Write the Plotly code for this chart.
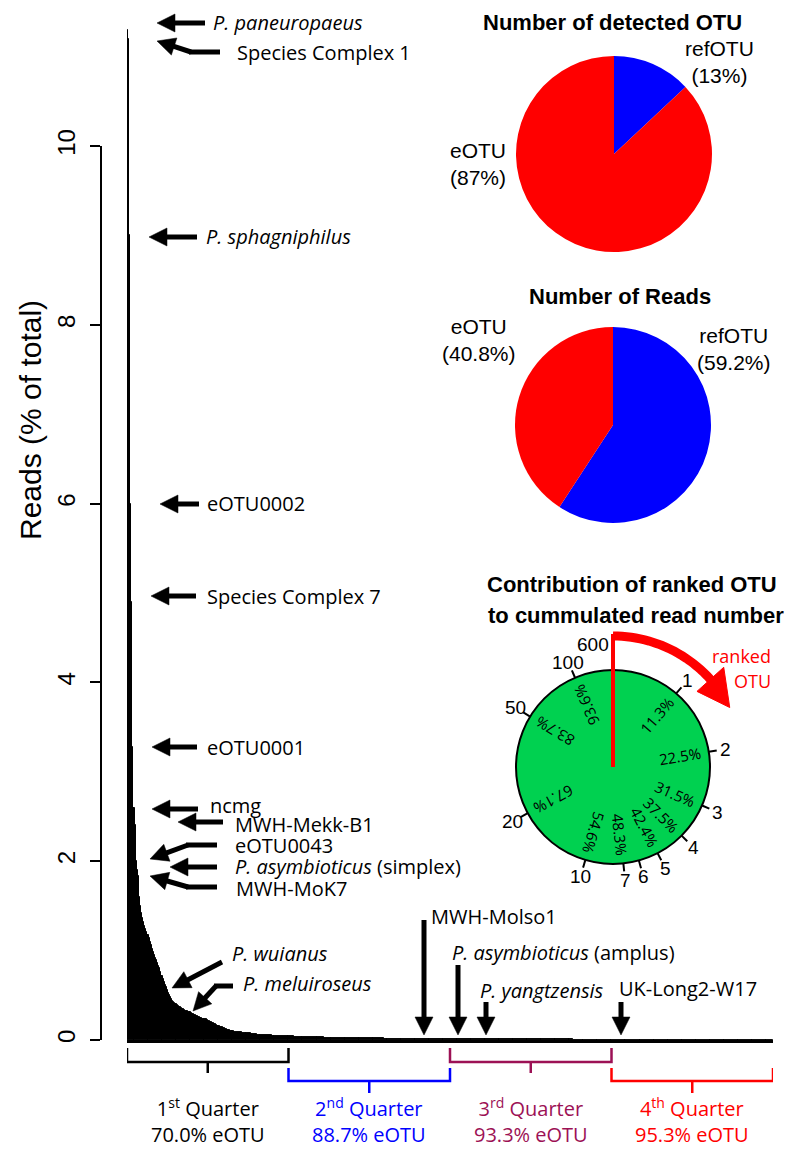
import math
import plotly.graph_objects as go

W, H = 800, 1155

# ---------------- data ----------------
N_OTU = 600
# reads (% of total) of the ranked OTU (ranks 1..103)
HEAD_READS = [
    11.3, 11.2, 9.0, 6.0, 4.9, 3.28, 2.6, 2.4, 2.0, 1.9,
    1.83, 1.6, 1.5, 1.42, 1.36, 1.32, 1.28, 1.24, 1.21, 1.18,
    1.14, 1.10, 1.06, 1.02, 0.98, 0.95, 0.92, 0.89, 0.86, 0.83,
    0.80, 0.76, 0.72, 0.68, 0.65, 0.62, 0.59, 0.56, 0.53, 0.50,
    0.48, 0.46, 0.44, 0.42, 0.41, 0.40, 0.39, 0.38, 0.37, 0.37,
    0.36, 0.35, 0.35, 0.34, 0.33, 0.33, 0.32, 0.31, 0.31, 0.30,
    0.29, 0.29, 0.28, 0.28, 0.27, 0.27, 0.26, 0.26, 0.25, 0.25,
    0.24, 0.24, 0.23, 0.23, 0.22, 0.21, 0.21, 0.20, 0.20, 0.19,
    0.19, 0.18, 0.18, 0.17, 0.16, 0.16, 0.15, 0.145, 0.14, 0.135,
    0.13, 0.125, 0.12, 0.115, 0.11, 0.107, 0.104, 0.10, 0.098, 0.095,
    0.093, 0.091, 0.09,
]
# long tail read as flat steps: (reads %, number of consecutive OTU)
TAIL_RUNS = [
    (0.088, 2), (0.085, 2), (0.082, 2), (0.079, 2), (0.076, 2), (0.073, 2),
    (0.070, 2), (0.067, 2), (0.064, 2), (0.061, 2), (0.058, 2), (0.055, 2),
    (0.053, 4), (0.051, 4), (0.049, 4), (0.047, 4), (0.045, 4), (0.043, 4),
    (0.041, 4), (0.039, 4), (0.037, 4), (0.035, 4), (0.033, 4), (0.031, 4),
    (0.029, 8), (0.027, 8), (0.025, 8), (0.023, 8), (0.021, 8), (0.019, 8),
    (0.018, 8), (0.017, 8), (0.016, 8), (0.015, 8), (0.014, 8), (0.013, 8),
    (0.012, 8),
    (0.011, 20), (0.010, 20), (0.009, 20), (0.008, 20), (0.007, 25),
    (0.006, 30), (0.005, 35), (0.004, 40), (0.003, 45), (0.002, 50),
    (0.001, 16),
]
Y_TICKS = [0, 2, 4, 6, 8, 10]

PIE_LABELS = ["refOTU", "eOTU"]
PIE_OTU_VALUES = [13, 87]
PIE_READS_VALUES = [59.2, 40.8]
PIE_COLORS = ["#0000ff", "#ff0000"]

CIRCLE_RANKS = ["1", "2", "3", "4", "5", "6", "7", "10", "20", "50", "100", "600"]
CIRCLE_CUM = [11.3, 22.5, 31.5, 37.5, 42.4, 45.7, 48.3, 54.6, 67.1, 83.7, 93.6, 100.0]
CIRCLE_PCT = ["11.3%", "22.5%", "31.5%", "37.5%", "42.4%", "", "48.3%",
              "54.6%", "67.1%", "83.7%", "93.6%", ""]

QUARTER_NAMES = ["1<sup>st</sup> Quarter", "2<sup>nd</sup> Quarter",
                 "3<sup>rd</sup> Quarter", "4<sup>th</sup> Quarter"]
QUARTER_EOTU = [70.0, 88.7, 93.3, 95.3]
QUARTER_COLORS = ["#000000", "#0000ff", "#9c1155", "#ff0000"]

reads = HEAD_READS + [v for v, n in TAIL_RUNS for _ in range(n)]
ranks = list(range(1, len(reads) + 1))

# ---------------- helpers ----------------
def px(x):
    return x / W


def py(y):
    return 1 - y / H


SANS = "Open Sans, Noto Sans, sans-serif"
ARIAL = "Liberation Sans, Arial, sans-serif"

fig = go.Figure()

# ---------------- main rank-abundance bars ----------------
fig.add_trace(go.Bar(
    x=ranks, y=reads, marker=dict(color="black", line=dict(color="black", width=1.0)),
    showlegend=False, hoverinfo="x+y",
))
# carrier trace for the visible 0..10 reads axis
fig.add_trace(go.Scatter(x=[None], y=[None], xaxis="x", yaxis="y2", showlegend=False,
                         hoverinfo="skip"))

# ---------------- pies ----------------
fig.add_trace(go.Pie(
    labels=PIE_LABELS, values=PIE_OTU_VALUES, marker=dict(colors=PIE_COLORS, line=dict(width=0)),
    sort=False, direction="clockwise", rotation=0, textinfo="none", showlegend=False,
    automargin=False, domain=dict(x=[px(516), px(712)], y=[py(252), py(56)]),
))
fig.add_trace(go.Pie(
    labels=PIE_LABELS, values=PIE_READS_VALUES, marker=dict(colors=PIE_COLORS, line=dict(width=0)),
    sort=False, direction="clockwise", rotation=0, textinfo="none", showlegend=False,
    automargin=False, domain=dict(x=[px(515), px(711)], y=[py(523), py(327)]),
))

shapes = []
annotations = []

annotations.append(dict(text="Reads (% of total)", x=px(30), y=py(420), xref="paper", yref="paper",
                        showarrow=False, textangle=-90, font=dict(family=ARIAL, size=30, color="black"),
                        xanchor="center", yanchor="middle"))

# ---------------- labelled arrows on the main plot ----------------
AW = 5
HEAD_L, HEAD_HW = 18, 9


def arrow(tip, tail):
    dx, dy = tip[0] - tail[0], tip[1] - tail[1]
    n = math.hypot(dx, dy)
    ux, uy = dx / n, dy / n
    bx, by = tip[0] - ux * HEAD_L, tip[1] - uy * HEAD_L
    nx, ny = -uy, ux
    shapes.append(dict(type="line", xref="paper", yref="paper",
                       x0=px(tail[0]), y0=py(tail[1]), x1=px(bx + ux), y1=py(by + uy),
                       line=dict(color="black", width=AW)))
    p1 = (bx + nx * HEAD_HW, by + ny * HEAD_HW)
    p2 = (bx - nx * HEAD_HW, by - ny * HEAD_HW)
    path = (f"M {px(tip[0]):.5f},{py(tip[1]):.5f} L {px(p1[0]):.5f},{py(p1[1]):.5f} "
            f"L {px(p2[0]):.5f},{py(p2[1]):.5f} Z")
    shapes.append(dict(type="path", xref="paper", yref="paper", path=path,
                       fillcolor="black", line=dict(color="black", width=0.5)))


def seg(a, b):
    shapes.append(dict(type="line", xref="paper", yref="paper", x0=px(a[0]), y0=py(a[1]),
                       x1=px(b[0]), y1=py(b[1]), line=dict(color="black", width=AW)))


def label(text, x, y, size=20, color="black", anchor="left"):
    annotations.append(dict(text=text, x=px(x), y=py(y), xref="paper", yref="paper",
                            showarrow=False, xanchor=anchor, yanchor="middle",
                            font=dict(family=SANS, size=size, color=color)))


arrow((157, 23), (205, 23)); label("<i>P. paneuropaeus</i>", 211, 23)
seg((220, 52), (189, 52)); arrow((157, 41), (191, 52)); label("Species Complex 1", 235, 52)
arrow((149, 237), (197, 237)); label("<i>P. sphagniphilus</i>", 204, 237)
arrow((160, 504), (199, 504)); label("eOTU0002", 205, 504)
arrow((151, 596), (196, 596)); label("Species Complex 7", 205, 596)
arrow((152, 747), (197, 747)); label("eOTU0001", 205, 747)
arrow((152, 809), (198, 809)); label("ncmg", 208, 805)
arrow((178, 822), (223, 822)); label("MWH-Mekk-B1", 233, 824)
seg((217, 845), (186, 845)); arrow((150, 859), (188, 845)); label("eOTU0043", 233, 845)
arrow((170, 867), (217, 867)); label("<i>P. asymbioticus</i> (simplex)", 233, 866)
seg((217, 887), (186, 887)); arrow((150, 876), (188, 887)); label("MWH-MoK7", 234, 888)
arrow((172, 988), (222, 962)); label("<i>P. wuianus</i>", 230, 953)
seg((233, 986), (214, 986)); arrow((193, 1011), (216, 986)); label("<i>P. meluiroseus</i>", 241, 984)
arrow((424, 1035), (424, 920)); label("MWH-Molso1", 429, 916)
arrow((458, 1035), (458, 965)); label("<i>P. asymbioticus</i> (amplus)", 450, 952)
arrow((486, 1035), (486, 1002)); label("<i>P. yangtzensis</i>", 478, 990)
arrow((621, 1035), (621, 1002)); label("UK-Long2-W17", 617, 988)

# ---------------- quarter brackets ----------------
QB = [0.5, 150.5, 300.5, 450.5, 600.5]
for i in range(4):
    col = QUARTER_COLORS[i]
    top, hor, bot = (1048, 1062, 1073) if i % 2 == 0 else (1068, 1081, 1093)
    x0, x1 = QB[i], QB[i + 1]
    xm = (x0 + x1) / 2
    pts = [(x0, top), (x0, hor), (x1, hor), (x1, top)]
    path = "M " + " L ".join(f"{x},{py(y):.5f}" for x, y in pts)
    shapes.append(dict(type="path", xref="x", yref="paper", path=path,
                       line=dict(color=col, width=2.5)))
    shapes.append(dict(type="line", xref="x", yref="paper", x0=xm, x1=xm,
                       y0=py(hor), y1=py(bot), line=dict(color=col, width=2.5)))
    annotations.append(dict(text=f"{QUARTER_NAMES[i]}<br>{QUARTER_EOTU[i]:.1f}% eOTU",
                            x=xm, y=py(1120), xref="x", yref="paper", showarrow=False,
                            xanchor="center", yanchor="middle",
                            font=dict(family=SANS, size=20, color=col)))

# ---------------- pie titles / labels ----------------
def title(text, x, y, size=22):
    annotations.append(dict(text=f"<b>{text}</b>", x=px(x), y=py(y), xref="paper", yref="paper",
                            showarrow=False, xanchor="center", yanchor="middle",
                            font=dict(family=ARIAL, size=size, color="black")))


def pie_label(text, x, y):
    annotations.append(dict(text=text, x=px(x), y=py(y), xref="paper", yref="paper",
                            showarrow=False, xanchor="center", yanchor="middle",
                            font=dict(family=ARIAL, size=21, color="black")))


title("Number of detected OTU", 612, 22)
pie_label(f"{PIE_LABELS[0]}<br>({PIE_OTU_VALUES[0]}%)", 719, 62)
pie_label(f"{PIE_LABELS[1]}<br>({PIE_OTU_VALUES[1]}%)", 478, 164)
title("Number of Reads", 620, 297)
pie_label(f"{PIE_LABELS[0]}<br>({PIE_READS_VALUES[0]}%)", 734, 349)
pie_label(f"{PIE_LABELS[1]}<br>({PIE_READS_VALUES[1]}%)", 479, 340)

# ---------------- circle of cumulated reads ----------------
title("Contribution of ranked OTU", 632, 585)
title("to cummulated read number", 636, 615)

CX, CY, R = 613, 767, 97
shapes.append(dict(type="circle", xref="paper", yref="paper", x0=px(CX - R), x1=px(CX + R),
                   y0=py(CY + R), y1=py(CY - R), fillcolor="#00d150",
                   line=dict(color="black", width=2)))


def polar(r, deg):
    t = math.radians(deg)
    return CX + r * math.sin(t), CY - r * math.cos(t)


for rk, cum, pct in zip(CIRCLE_RANKS, CIRCLE_CUM, CIRCLE_PCT):
    th = cum * 3.6
    a = polar(R, th)
    b = polar(R + 8, th)
    shapes.append(dict(type="line", xref="paper", yref="paper", x0=px(a[0]), y0=py(a[1]),
                       x1=px(b[0]), y1=py(b[1]), line=dict(color="black", width=2)))
    lp = polar(124, -9.5) if rk == "600" else polar(114, th)
    annotations.append(dict(text=rk, x=px(lp[0]), y=py(lp[1]), xref="paper", yref="paper",
                            showarrow=False, xanchor="center", yanchor="middle",
                            font=dict(family=ARIAL, size=19, color="black")))
    if pct:
        tp = polar(68, th)
        ang = ((th - 90) + 180) % 360 - 180
        annotations.append(dict(text=pct, x=px(tp[0]), y=py(tp[1]), xref="paper", yref="paper",
                                showarrow=False, xanchor="center", yanchor="middle", textangle=ang,
                                font=dict(family=SANS, size=15, color="black")))

# red radius line and curved arrow
shapes.append(dict(type="line", xref="paper", yref="paper", x0=px(CX), x1=px(CX),
                   y0=py(CY), y1=py(CY - 133), line=dict(color="#ff0000", width=4)))
arc = [polar(131, d) for d in range(0, 51, 2)]
arc_path = "M " + " L ".join(f"{px(x):.5f},{py(y):.5f}" for x, y in arc)
shapes.append(dict(type="path", xref="paper", yref="paper", path=arc_path,
                   line=dict(color="#ff0000", width=9)))
h_tip = polar(131, 63)
h_a = polar(113, 48)
h_b = polar(149, 48)
head = (f"M {px(h_a[0]):.5f},{py(h_a[1]):.5f} L {px(h_b[0]):.5f},{py(h_b[1]):.5f} "
        f"L {px(h_tip[0]):.5f},{py(h_tip[1]):.5f} Z")
shapes.append(dict(type="path", xref="paper", yref="paper", path=head,
                   fillcolor="#ff0000", line=dict(color="#ff0000", width=1)))
label("ranked", 773, 656, size=18, color="#ff0000", anchor="right")
label("OTU", 773, 681, size=18, color="#ff0000", anchor="right")

# ---------------- layout ----------------
fig.update_layout(
    width=W, height=H, margin=dict(l=0, r=0, t=0, b=0, pad=0, autoexpand=False),
    paper_bgcolor="white", plot_bgcolor="rgba(0,0,0,0)",
    bargap=0, showlegend=False,
    xaxis=dict(domain=[px(127), px(773)], range=[0.5, N_OTU + 0.5], showline=True,
               linecolor="black", linewidth=2.5, showticklabels=False, ticks="",
               showgrid=False, zeroline=False, anchor="y", automargin=False),
    yaxis=dict(domain=[py(1040), py(3)], range=[0, 11.6], anchor="x",
               showline=False, ticks="", showticklabels=False,
               showgrid=False, zeroline=False, automargin=False),
    yaxis2=dict(domain=[py(1040), py(1040 - 10 * (1037 / 11.6))], range=[0, 10],
                anchor="free", position=px(101), side="left", automargin=False,
                showline=True, linecolor="black", linewidth=1.5,
                ticks="outside", ticklen=10, tickwidth=1.5, tickcolor="black",
                tickvals=Y_TICKS, tickangle=-90, ticklabelstandoff=6,
                tickfont=dict(family=ARIAL, size=24, color="black"),
                showgrid=False, zeroline=False),
    shapes=shapes, annotations=annotations,
)

fig.write_html("out.html", config={"displayModeBar": False},
               post_script="document.body.style.margin='0px';")
